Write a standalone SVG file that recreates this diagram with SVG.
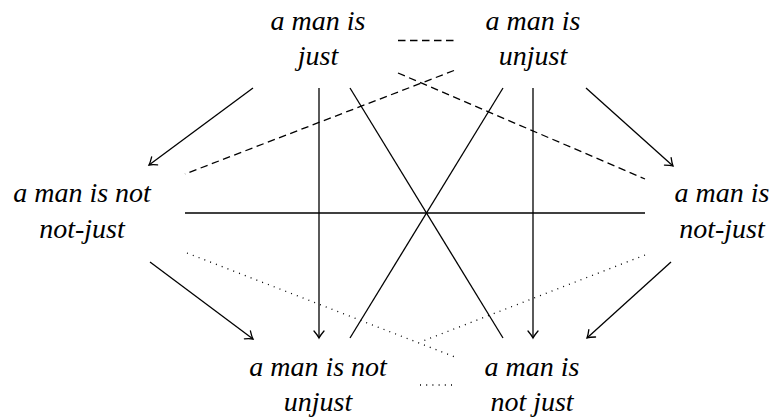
<svg xmlns="http://www.w3.org/2000/svg" width="774" height="420" viewBox="0 0 774 420">
<style>
text{font-family:"Liberation Serif",serif;font-style:italic;font-size:28px;fill:#000;text-anchor:middle}
.s{stroke:#000;stroke-width:1.3;fill:none}
.d{stroke:#000;stroke-width:1.3;fill:none;stroke-dasharray:7.5 4.5}
.o{stroke:#000;stroke-width:1.3;fill:none;stroke-dasharray:1 5.2}
</style>
<defs>
<marker id="arr" markerUnits="userSpaceOnUse" markerWidth="14" markerHeight="14" refX="0" refY="0" viewBox="-10 -7 12 14" orient="auto" overflow="visible">
<path d="M -7 -5 Q -2.5 -1.2 0 0 Q -2.5 1.2 -7 5" fill="none" stroke="#000" stroke-width="1.3" stroke-linecap="round"/>
</marker>
</defs>
<rect width="774" height="420" fill="#fff"/>
<g id="n-just"><text x="318" y="30">a man is</text><text x="318" y="65">just</text></g>
<g id="n-unjust"><text x="533" y="30">a man is</text><text x="533" y="65">unjust</text></g>
<g id="n-notnotjust"><text x="82" y="202">a man is not</text><text x="82" y="238">not-just</text></g>
<g id="n-isnotjust-r"><text x="722" y="202">a man is</text><text x="722" y="238">not-just</text></g>
<g id="n-notunjust"><text x="318" y="376">a man is not</text><text x="318" y="411">unjust</text></g>
<g id="n-notjust"><text x="532" y="376">a man is</text><text x="532" y="411">not just</text></g>
<g id="connectors">
<line class="d" x1="398" y1="40.5" x2="455" y2="40.5"/>
<line class="d" x1="454" y1="70.5" x2="185" y2="174"/>
<line class="d" x1="398" y1="73" x2="645" y2="179"/>
<line class="s" x1="253" y1="88" x2="149" y2="165" marker-end="url(#arr)"/>
<line class="s" x1="586" y1="88" x2="673" y2="166" marker-end="url(#arr)"/>
<line class="s" x1="319" y1="88" x2="319" y2="338" marker-end="url(#arr)"/>
<line class="s" x1="533" y1="88" x2="533" y2="338" marker-end="url(#arr)"/>
<line class="s" x1="350" y1="88" x2="503" y2="338"/>
<line class="s" x1="503" y1="88" x2="350" y2="338"/>
<line class="s" x1="185" y1="213" x2="645" y2="213"/>
<line class="s" x1="150" y1="262" x2="253" y2="339" marker-end="url(#arr)"/>
<line class="s" x1="671" y1="262" x2="587" y2="338" marker-end="url(#arr)"/>
<line class="o" x1="187" y1="253" x2="455" y2="357"/>
<line class="o" x1="645" y1="255" x2="423" y2="341"/>
<line class="o" x1="420" y1="385" x2="455" y2="385"/>
</g>
</svg>
